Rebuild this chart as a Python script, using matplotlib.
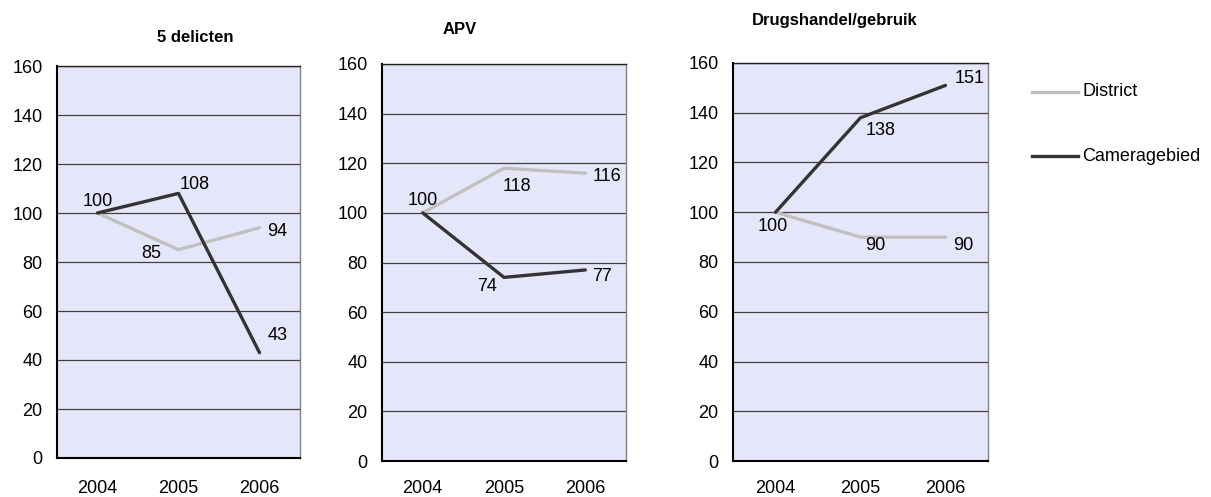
import matplotlib
matplotlib.use("Agg")
import matplotlib.pyplot as plt
from matplotlib.lines import Line2D

plt.rcParams['font.family'] = ['Liberation Sans', 'DejaVu Sans']

years = ["2004", "2005", "2006"]
titles = ["5 delicten", "APV", "Drugshandel/gebruik"]
district = [[100, 85, 94], [100, 118, 116], [100, 90, 90]]
camera = [[100, 108, 43], [100, 74, 77], [100, 138, 151]]
series_names = ["District", "Cameragebied"]
yticks = [0, 20, 40, 60, 80, 100, 120, 140, 160]

# label offsets in pixels: (series, index, dx, dy)
label_offsets = [
    [("C", 0, 0, 12), ("C", 1, 16, 9), ("C", 2, 18, 17), ("D", 1, -27, -4), ("D", 2, 18, -4)],
    [("D", 0, 0, 12), ("D", 1, 13, -18), ("D", 2, 22, -3), ("C", 1, -17, -9), ("C", 2, 17, -7)],
    [("D", 0, -3, -14), ("D", 1, 15, -8), ("D", 2, 18, -8), ("C", 1, 20, -13), ("C", 2, 24, 7)],
]

W, H = 1211, 497
fig = plt.figure(figsize=(W / 100, H / 100), dpi=100)

# axes boxes in pixels: left, right, top, bottom
boxes = [(57, 300, 66, 458), (382, 626, 64, 461), (733, 988, 63, 461)]
xpads = [16, 13.8, 13.8]
title_pos = [(195, 37), (460, 30), (835, 20)]

col_d = "#c0c0c0"
col_c = "#333333"
bg = "#e6e6fa"
FS = 13

for i, (l, r, t, b) in enumerate(boxes):
    ax = fig.add_axes([l / W, 1 - b / H, (r - l) / W, (b - t) / H])
    ax.set_facecolor(bg)
    x = list(range(len(years)))
    ax.plot(x, district[i], color=col_d, lw=2.4, solid_capstyle='round', zorder=3)
    ax.plot(x, camera[i], color=col_c, lw=2.4, solid_capstyle='round', zorder=4)
    ax.set_xlim(-0.5, 2.5)
    ax.set_ylim(0, 160)
    ax.set_yticks(yticks)
    ax.set_xticks(x)
    ax.set_xticklabels(years)
    ax.tick_params(length=0, labelsize=FS, colors='black')
    ax.tick_params(axis='y', pad=10.5)
    ax.tick_params(axis='x', pad=xpads[i])
    ax.yaxis.grid(True, color="#404040", lw=0.9)
    ax.set_axisbelow(True)
    for s in ['left', 'bottom']:
        ax.spines[s].set_color('black')
        ax.spines[s].set_linewidth(1.5)
    ax.spines['right'].set_color('#808080')
    ax.spines['right'].set_linewidth(1.0)
    ax.spines['top'].set_color('#202020')
    ax.spines['top'].set_linewidth(1.0)
    for ser, idx, dx, dy in label_offsets[i]:
        vals = district[i] if ser == "D" else camera[i]
        ax.annotate(str(vals[idx]), (idx, vals[idx]), xytext=(dx, dy),
                    textcoords='offset pixels', ha='center', va='center',
                    fontsize=FS, zorder=5)
    tx, ty = title_pos[i]
    fig.text(tx / W, 1 - ty / H, titles[i], ha='center', va='center',
             fontsize=12, fontweight='bold')

# legend
leg_items = [(series_names[0], col_d, 92), (series_names[1], col_c, 156)]
for name, col, y in leg_items:
    fig.add_artist(Line2D([1032 / W, 1078 / W], [1 - y / H, 1 - y / H],
                          color=col, lw=2.4, transform=fig.transFigure))
    fig.text(1082 / W, 1 - y / H, name, ha='left', va='center', fontsize=FS)

fig.savefig("out.png", dpi=100, facecolor='white')
